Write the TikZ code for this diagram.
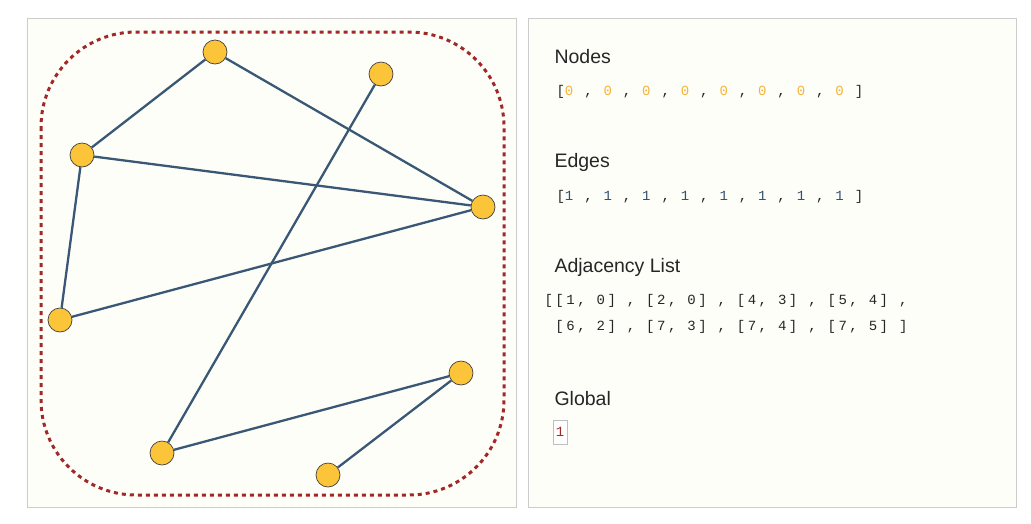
\documentclass[tikz,border=0pt]{standalone}
\usepackage{fontspec}
\setmainfont{Liberation Sans}
\newfontfamily\mymono{Liberation Mono}[LetterSpace=18]
\begin{document}
\begin{tikzpicture}[x=1pt,y=-1pt,
  panel/.style={draw=black!20,line width=0.8pt},
  vtx/.style={circle,draw=black!75,minimum size=24pt,inner sep=0pt,line width=0.7pt},
  edge/.style={line width=2.3pt},
  head/.style={anchor=west,font=\fontsize{19.5}{22}\selectfont,text=black!85},
  mono/.style={anchor=west,font=\mymono\fontsize{14}{16}\selectfont,text=black!85}]
\definecolor{edgec}{RGB}{58,88,118}
\definecolor{nodec}{RGB}{252,196,56}
\definecolor{redd}{RGB}{160,40,40}
\definecolor{orng}{RGB}{245,180,60}
\definecolor{blu}{RGB}{50,80,110}
\definecolor{bg}{RGB}{254,254,248}
\useasboundingbox (0,0) rectangle (1031,523);
\fill[white] (0,0) rectangle (1031,523);
\draw[panel,fill=bg] (27,18) rectangle (516,507);
\draw[panel,fill=bg] (528,18) rectangle (1016,507);
\draw[redd,line width=3pt,dash pattern=on 4pt off 4pt,rounded corners=95pt] (41,32) rectangle (504,495);
\tikzset{vtx/.append style={fill=nodec},edge/.append style={draw=edgec}}
\node[vtx] (A) at (215,52) {};
\node[vtx] (B) at (381,74) {};
\node[vtx] (C) at (82,155) {};
\node[vtx] (D) at (483,207) {};
\node[vtx] (E) at (60,320) {};
\node[vtx] (F) at (461,373) {};
\node[vtx] (G) at (162,453) {};
\node[vtx] (H) at (328,475) {};
\begin{scope}[on background layer/.style={}]
\end{scope}
\draw[edge] (A)--(C); \draw[edge] (A)--(D); \draw[edge] (C)--(D);
\draw[edge] (C)--(E); \draw[edge] (E)--(D); \draw[edge] (B)--(G);
\draw[edge] (G)--(F); \draw[edge] (F)--(H);
\node[head] (t1) at (551,57) {Nodes};
\node[mono] (n1) at (553,92) {[\textcolor{orng}{0} , \textcolor{orng}{0} , \textcolor{orng}{0} , \textcolor{orng}{0} , \textcolor{orng}{0} , \textcolor{orng}{0} , \textcolor{orng}{0} , \textcolor{orng}{0} ]};
\node[head] (t2) at (551,162) {Edges};
\node[mono] (n2) at (553,197) {[\textcolor{blu}{1} , \textcolor{blu}{1} , \textcolor{blu}{1} , \textcolor{blu}{1} , \textcolor{blu}{1} , \textcolor{blu}{1} , \textcolor{blu}{1} , \textcolor{blu}{1} ]};
\node[head] (t3) at (551,267) {Adjacency List};
\node[mono] (n3) at (541,301) {[[1, 0] , [2, 0] , [4, 3] , [5, 4] ,};
\node[mono] (n4) at (541,327) {\ [6, 2] , [7, 3] , [7, 4] , [7, 5] ]};
\node[head] (t4) at (551,399) {Global};
\node[draw=black!25,fill=white,line width=1pt,minimum width=14pt,minimum height=24pt,inner sep=0pt,font=\mymono\fontsize{14}{16}\selectfont,text=redd] (g) at (560,432) {1};
\end{tikzpicture}
\end{document}
